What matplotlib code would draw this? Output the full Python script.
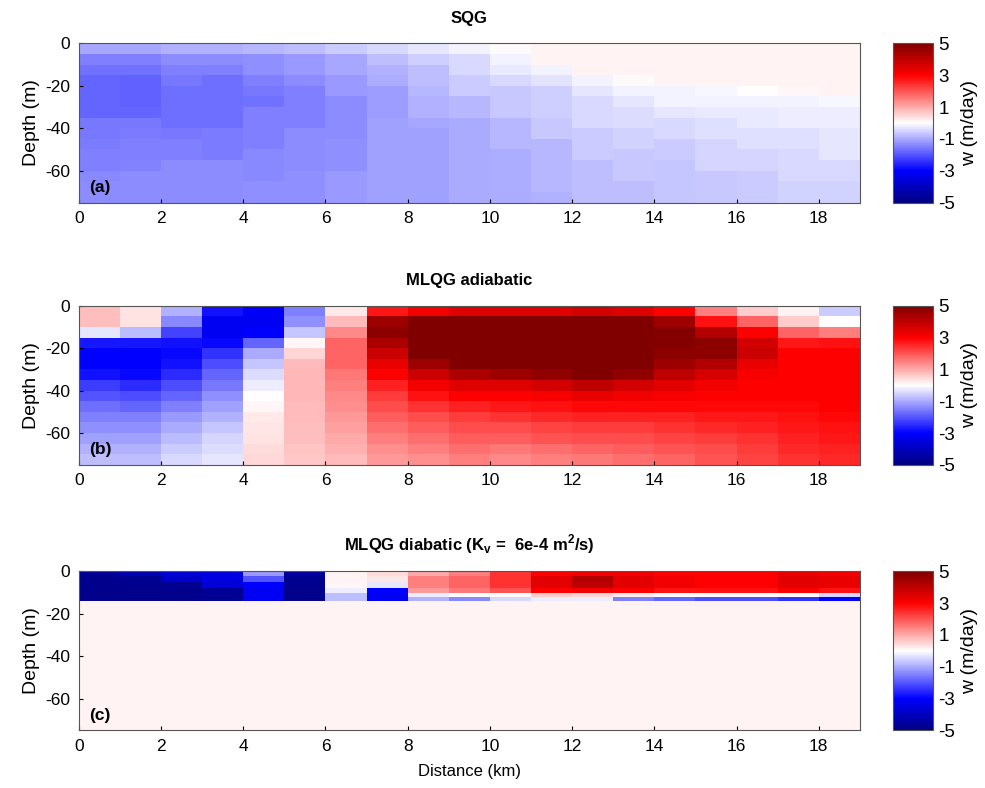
import numpy as np
import matplotlib
matplotlib.use("Agg")
import matplotlib.pyplot as plt
from matplotlib.colors import LinearSegmentedColormap

plt.rcParams['font.family'] = ['Liberation Sans', 'DejaVu Sans']
plt.rcParams['axes.unicode_minus'] = False

# grid: 19 columns of 1 km, depth in m (cell edges)
x_edges = np.arange(0, 20)
z_edges_ab = np.arange(0, -80, -5)                 # 15 rows of 5 m
z_edges_c = [0, -2, -5, -8, -10, -12, -14, -75]    # thin surface layer

# w (m/day), one list per km column, top to bottom
sqg_w = [
    [-1.05, -1.5, -1.65, -1.8, -1.8, -1.8, -1.8, -1.6, -1.6, -1.55, -1.5, -1.5, -1.4, -1.35, -1.35],
    [-1.05, -1.5, -1.65, -1.85, -1.85, -1.85, -1.8, -1.6, -1.55, -1.5, -1.5, -1.45, -1.35, -1.35, -1.35],
    [-0.9, -1.35, -1.5, -1.6, -1.7, -1.7, -1.7, -1.7, -1.6, -1.5, -1.5, -1.35, -1.35, -1.35, -1.35],
    [-0.9, -1.35, -1.5, -1.7, -1.7, -1.7, -1.7, -1.7, -1.55, -1.55, -1.55, -1.35, -1.35, -1.35, -1.35],
    [-0.85, -1.3, -1.3, -1.5, -1.6, -1.65, -1.5, -1.5, -1.5, -1.5, -1.4, -1.4, -1.4, -1.3, -1.3],
    [-0.75, -1.2, -1.2, -1.35, -1.5, -1.5, -1.5, -1.5, -1.35, -1.35, -1.35, -1.35, -1.3, -1.3, -1.3],
    [-0.6, -1.05, -1.05, -1.2, -1.2, -1.35, -1.35, -1.35, -1.35, -1.3, -1.3, -1.3, -1.2, -1.2, -1.2],
    [-0.45, -0.75, -0.9, -0.95, -1.15, -1.15, -1.15, -1.1, -1.1, -1.1, -1.1, -1.1, -1.1, -1.1, -1.1],
    [-0.3, -0.55, -0.75, -0.75, -0.85, -0.9, -0.9, -1.05, -1.1, -1.1, -1.1, -1.1, -1.1, -1.1, -1.1],
    [-0.15, -0.45, -0.45, -0.6, -0.6, -0.85, -0.85, -1.0, -1.0, -1.0, -1.0, -1.0, -1.0, -1.0, -1.0],
    [0.05, -0.15, -0.24, -0.45, -0.65, -0.65, -0.65, -0.85, -0.85, -0.85, -0.95, -0.95, -0.95, -0.95, -0.95],
    [0.15, 0.15, -0.15, -0.35, -0.55, -0.55, -0.55, -0.65, -0.65, -0.85, -0.85, -0.85, -0.85, -0.85, -0.9],
    [0.15, 0.15, 0.15, -0.15, -0.3, -0.45, -0.45, -0.45, -0.6, -0.6, -0.6, -0.75, -0.75, -0.75, -0.75],
    [0.15, 0.15, 0.15, 0.05, -0.15, -0.3, -0.42, -0.42, -0.54, -0.54, -0.66, -0.66, -0.66, -0.75, -0.75],
    [0.15, 0.15, 0.15, 0.15, -0.15, -0.15, -0.3, -0.45, -0.45, -0.6, -0.6, -0.7, -0.7, -0.7, -0.7],
    [0.15, 0.15, 0.15, 0.15, -0.1, -0.15, -0.24, -0.39, -0.39, -0.5, -0.5, -0.5, -0.65, -0.65, -0.65],
    [0.15, 0.15, 0.15, 0.15, 0.0, -0.12, -0.24, -0.24, -0.39, -0.39, -0.5, -0.5, -0.6, -0.6, -0.6],
    [0.15, 0.15, 0.15, 0.15, 0.1, -0.12, -0.21, -0.21, -0.36, -0.36, -0.45, -0.45, -0.45, -0.54, -0.54],
    [0.15, 0.15, 0.15, 0.15, 0.15, -0.1, -0.21, -0.21, -0.3, -0.3, -0.3, -0.45, -0.45, -0.54, -0.54],
]

adiab_w = [
    [0.75, 0.75, -0.3, -2.7, -3.0, -3.0, -2.8, -2.3, -2.0, -1.7, -1.5, -1.3, -1.1, -0.9, -0.75],
    [0.35, 0.35, -0.8, -2.7, -3.0, -3.0, -2.9, -2.5, -2.1, -1.8, -1.5, -1.3, -1.1, -0.9, -0.75],
    [-0.9, -1.4, -2.2, -2.8, -2.9, -2.8, -2.5, -2.1, -1.8, -1.5, -1.2, -1.0, -0.8, -0.6, -0.45],
    [-2.8, -3.2, -3.2, -2.9, -2.4, -2.1, -1.8, -1.6, -1.3, -1.1, -0.9, -0.7, -0.5, -0.4, -0.3],
    [-3.1, -3.2, -3.0, -1.8, -1.0, -0.7, -0.4, -0.2, 0.0, 0.1, 0.25, 0.3, 0.35, 0.4, 0.45],
    [-1.5, -1.3, -0.7, 0.1, 0.5, 0.8, 0.85, 0.85, 0.85, 0.8, 0.8, 0.75, 0.75, 0.7, 0.65],
    [0.25, 0.8, 1.4, 1.8, 1.8, 1.8, 1.6, 1.5, 1.4, 1.3, 1.2, 1.1, 1.0, 0.9, 0.8],
    [2.7, 4.5, 4.8, 4.3, 3.8, 3.3, 3.0, 2.6, 2.3, 2.1, 1.9, 1.7, 1.5, 1.3, 1.2],
    [3.2, 5.0, 5.0, 5.0, 5.0, 4.5, 3.8, 3.2, 2.8, 2.4, 2.1, 1.9, 1.7, 1.5, 1.3],
    [3.5, 5.0, 5.0, 5.0, 5.0, 5.0, 4.3, 3.5, 3.0, 2.6, 2.3, 2.1, 1.9, 1.7, 1.5],
    [3.5, 5.0, 5.0, 5.0, 5.0, 5.0, 4.5, 3.5, 3.0, 2.7, 2.4, 2.1, 1.9, 1.6, 1.4],
    [3.5, 5.0, 5.0, 5.0, 5.0, 5.0, 4.7, 3.7, 3.1, 2.8, 2.5, 2.2, 2.0, 1.7, 1.5],
    [3.7, 5.0, 5.0, 5.0, 5.0, 5.0, 5.0, 4.0, 3.3, 2.9, 2.6, 2.3, 2.1, 1.8, 1.6],
    [3.5, 5.0, 5.0, 5.0, 5.0, 5.0, 4.7, 3.7, 3.2, 2.9, 2.6, 2.3, 2.1, 1.9, 1.7],
    [3.0, 4.5, 4.9, 4.9, 4.8, 4.5, 4.0, 3.4, 3.1, 2.9, 2.6, 2.4, 2.2, 2.0, 1.8],
    [1.5, 2.8, 4.2, 4.8, 4.8, 4.2, 3.6, 3.2, 3.0, 2.9, 2.7, 2.5, 2.3, 2.1, 2.0],
    [0.6, 1.8, 3.0, 3.7, 3.8, 3.3, 3.1, 3.0, 3.0, 2.9, 2.7, 2.6, 2.4, 2.3, 2.2],
    [0.15, 0.6, 1.8, 2.7, 3.0, 3.0, 3.0, 3.0, 3.0, 2.9, 2.8, 2.7, 2.6, 2.5, 2.4],
    [-0.6, 0.0, 1.5, 2.8, 3.0, 3.0, 3.0, 3.0, 3.0, 3.0, 2.9, 2.8, 2.7, 2.6, 2.5],
]

diab_w = [
    [-4.6, -4.8, -4.8, -4.8, -4.8, -4.8, 0.15],
    [-4.2, -4.7, -4.8, -4.8, -4.8, -4.8, 0.15],
    [-3.6, -3.8, -4.7, -4.8, -4.8, -4.8, 0.15],
    [-3.4, -3.4, -3.6, -4.6, -4.7, -4.7, 0.15],
    [-1.2, -2.0, -3.0, -3.2, -3.2, -3.2, 0.15],
    [-4.5, -4.7, -4.8, -4.8, -4.8, -4.8, 0.15],
    [0.15, 0.15, 0.1, -0.2, -0.75, -0.75, 0.15],
    [0.4, 0.3, -0.3, -3.0, -3.2, -3.2, 0.15],
    [1.0, 1.5, 1.5, 1.2, -0.2, -0.9, 0.15],
    [1.5, 1.8, 1.8, 1.6, 0.0, -1.4, 0.15],
    [2.4, 2.4, 2.4, 2.0, 0.0, -0.45, 0.15],
    [3.0, 3.4, 3.4, 3.0, 0.6, -0.2, 0.15],
    [3.2, 4.2, 4.0, 3.2, 0.5, -0.2, 0.15],
    [3.2, 3.4, 3.4, 3.0, 0.2, -1.5, 0.15],
    [3.0, 3.2, 3.2, 2.8, 0.0, -1.8, 0.15],
    [3.0, 3.0, 3.0, 2.8, 0.0, -2.1, 0.15],
    [3.0, 3.0, 3.0, 2.8, 0.0, -2.1, 0.15],
    [3.3, 3.4, 3.4, 3.0, 0.0, -2.4, 0.15],
    [3.2, 3.3, 3.3, 2.8, -0.5, -3.0, 0.15],
]

titles = ['SQG', 'MLQG adiabatic', r'MLQG diabatic (K$_\mathregular{v}$ =  6e-4 m$^\mathregular{2}$/s)']
labels = ['(a)', '(b)', '(c)']
x_ticks = [0, 2, 4, 6, 8, 10, 12, 14, 16, 18]
y_ticks = [0, -20, -40, -60]
cb_ticks = [5, 3, 1, -1, -3, -5]

# blue - white - red, darker at the ends
cmap = LinearSegmentedColormap.from_list(
    'bwr_dark',
    [(0.0, (0, 0, 0.5)), (0.2, (0, 0, 1)), (0.5, (1, 1, 1)),
     (0.8, (1, 0, 0)), (1.0, (0.5, 0, 0))])

fig = plt.figure(figsize=(9.85, 7.88), dpi=100)

ax_pos = [0.945, 0.612, 0.275]   # tops of the three panels
ax_h = 0.202
data = [sqg_w, adiab_w, diab_w]
z_edges = [z_edges_ab, z_edges_ab, z_edges_c]

for i in range(3):
    ax = fig.add_axes([0.080, ax_pos[i] - ax_h, 0.793, ax_h])
    w = np.array(data[i]).T
    pc = ax.pcolormesh(x_edges, z_edges[i], w, cmap=cmap, vmin=-5, vmax=5,
                       shading='flat')
    ax.set_xlim(0, 19)
    ax.set_ylim(-75, 0)
    ax.set_xticks(x_ticks)
    ax.set_yticks(y_ticks)
    ax.tick_params(direction='in', length=3, labelsize=12.5, pad=6)
    ax.set_ylabel('Depth (m)', fontsize=14, labelpad=4)
    ax.set_title(titles[i], fontsize=12, fontweight='bold', pad=15)
    ax.text(0.013, 0.05, labels[i], transform=ax.transAxes, fontsize=12.5,
            fontweight='bold', va='bottom', ha='left')
    for sp in ax.spines.values():
        sp.set_color('#555555')

    cax = fig.add_axes([0.907, ax_pos[i] - ax_h, 0.040, ax_h])
    cb = fig.colorbar(pc, cax=cax, ticks=cb_ticks)
    cb.ax.tick_params(length=0, labelsize=13.5, pad=4)
    cb.set_label('w (m/day)', fontsize=14, labelpad=4)
    cb.outline.set_edgecolor('#555555')

    if i == 2:
        ax.set_xlabel('Distance (km)', fontsize=12, labelpad=7)

fig.savefig('out.png', dpi=100)
